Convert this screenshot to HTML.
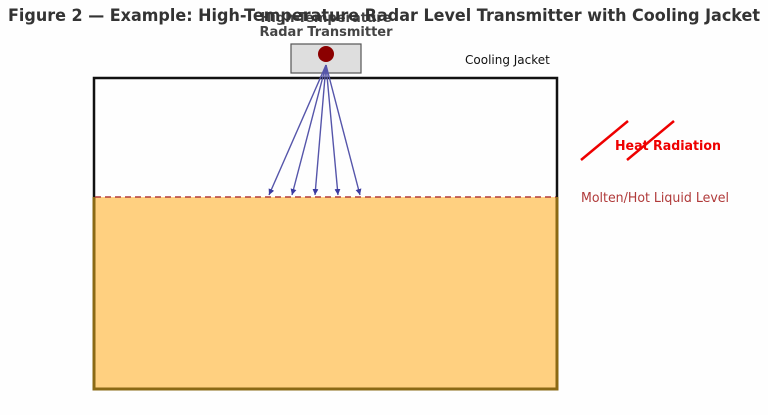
<!DOCTYPE html>
<html><head><meta charset="utf-8"><style>
html,body{margin:0;padding:0;background:#fefefe;}
svg{display:block;font-family:"DejaVu Sans","Liberation Sans",sans-serif;}
</style></head><body>
<svg width="768" height="415" viewBox="0 0 768 415" xmlns="http://www.w3.org/2000/svg">
<rect width="768" height="415" fill="#fefefe"/>
<defs><marker id="a" markerWidth="8" markerHeight="8" refX="6" refY="3" orient="auto" markerUnits="userSpaceOnUse"><path d="M0,0 L6,3 L0,6 z" fill="#3a3aa0"/></marker></defs>
<text x="326" y="22" text-anchor="middle" font-size="13" font-weight="bold" fill="#444">High-Temperature</text>
<text x="8" y="21" font-size="16.5" font-weight="bold" fill="#333" textLength="752" lengthAdjust="spacingAndGlyphs">Figure 2 — Example: High-Temperature Radar Level Transmitter with Cooling Jacket</text>
<text x="326" y="36" text-anchor="middle" font-size="13" font-weight="bold" fill="#444">Radar Transmitter</text>
<rect x="94" y="197" width="463" height="192" fill="#ffd080"/>
<path d="M94,197 L94,389 L557,389 L557,197" fill="none" stroke="#8b6914" stroke-width="3"/>
<path d="M94,197 L94,78 L557,78 L557,197" fill="none" stroke="#111" stroke-width="2.5"/>
<line x1="95" y1="197" x2="556" y2="197" stroke="#b03a3a" stroke-width="1.5" stroke-dasharray="6,4"/>
<rect x="291" y="44" width="70" height="29" fill="#dedede" stroke="#555" stroke-width="1.2"/>
<circle cx="326" cy="54" r="8" fill="#8b0000"/>
<g stroke="#5555aa" stroke-width="1.4" marker-end="url(#a)">
<line x1="326" y1="65" x2="269" y2="195"/>
<line x1="326" y1="65" x2="292" y2="195"/>
<line x1="326" y1="65" x2="315" y2="195"/>
<line x1="326" y1="65" x2="338" y2="195"/>
<line x1="326" y1="65" x2="360" y2="195"/>
</g>
<text x="465" y="64" font-size="12" fill="#111">Cooling Jacket</text>
<line x1="581" y1="160" x2="628" y2="121" stroke="#e00" stroke-width="2.5"/>
<line x1="627" y1="160" x2="674" y2="121" stroke="#e00" stroke-width="2.5"/>
<text x="615" y="150" font-size="13" font-weight="bold" fill="#e00" textLength="106" lengthAdjust="spacingAndGlyphs">Heat Radiation</text>
<text x="581" y="202" font-size="13" fill="#b03a3a" textLength="148" lengthAdjust="spacingAndGlyphs">Molten/Hot Liquid Level</text>
</svg>
</body></html>
